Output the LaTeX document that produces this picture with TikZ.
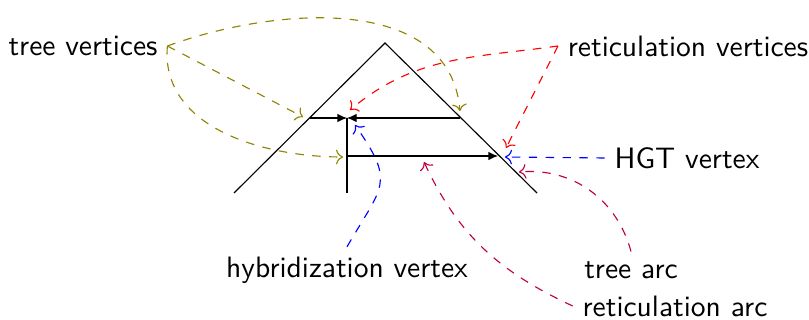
\documentclass[tikz,border=0pt]{standalone}
\usepackage{tikz}
\usetikzlibrary{arrows.meta}
\tikzset{
  lbl/.style={font=\sffamily\fontsize{10.5pt}{12pt}\selectfont},
  branch/.style={thin},
  arc/.style={-{Latex[length=3.4pt,width=3pt]},thin},
  pointer/.style={->,dashed}
}
\begin{document}
\begin{tikzpicture}[x=0.0125cm,y=-0.0125cm]
  \useasboundingbox (0,0) rectangle (809,320);
  % labels
  \node[lbl] (tv) at (83,46) {tree vertices};
  \node[lbl] (rv) at (688,46) {reticulation vertices};
  \node[lbl] (hgt) at (687,158) {HGT vertex};
  \node[lbl] (hv) at (347,270) {hybridization vertex};
  \node[lbl] (ta) at (631,270) {tree arc};
  \node[lbl] (ra) at (675,306) {reticulation arc};
  % species tree
  \coordinate (top) at (385,43);
  \coordinate (bl) at (234,193);
  \coordinate (br) at (537,193);
  \coordinate (u1) at (310,118);
  \coordinate (u2) at (460,118);
  \coordinate (hyb) at (347,118);
  \coordinate (hb) at (347,193);
  \coordinate (l1) at (347,156);
  \coordinate (l2) at (498,156);
  \draw[branch] (bl) -- (top) -- (br);
  \draw[branch] (hyb) -- (hb);
  \draw[arc] (u1) -- (hyb);
  \draw[arc] (u2) -- (hyb);
  \draw[arc] (l1) -- (l2);
  % pointers
  \coordinate (tv1) at (303,117);
  \coordinate (tv2) at (343,157);
  \coordinate (tv3) at (460,111);
  \coordinate (rv1) at (350,110);
  \coordinate (rv2) at (506,148);
  \coordinate (hgt1) at (505,157);
  \coordinate (hv1) at (355,125);
  \coordinate (ta1) at (519,172);
  \coordinate (ra1) at (424,162);
  \draw[pointer,olive] (tv.east) -- (tv1);
  \draw[pointer,olive] (tv.east) to[out=-95,in=180] (tv2);
  \draw[pointer,olive] (tv.east) to[out=20,in=95] (tv3);
  \draw[pointer,red] (rv.west) to[out=188,in=40] (rv1);
  \draw[pointer,red] (rv.west) -- (rv2);
  \draw[pointer,blue] (hgt.west) -- (hgt1);
  \draw[pointer,blue] (hv.north) to[out=60,in=-55,looseness=1.5] (hv1);
  \draw[pointer,purple] (ta.north) to[out=105,in=5] (ta1);
  \draw[pointer,purple] (ra.west) to[out=155,in=-65] (ra1);
\end{tikzpicture}
\end{document}
